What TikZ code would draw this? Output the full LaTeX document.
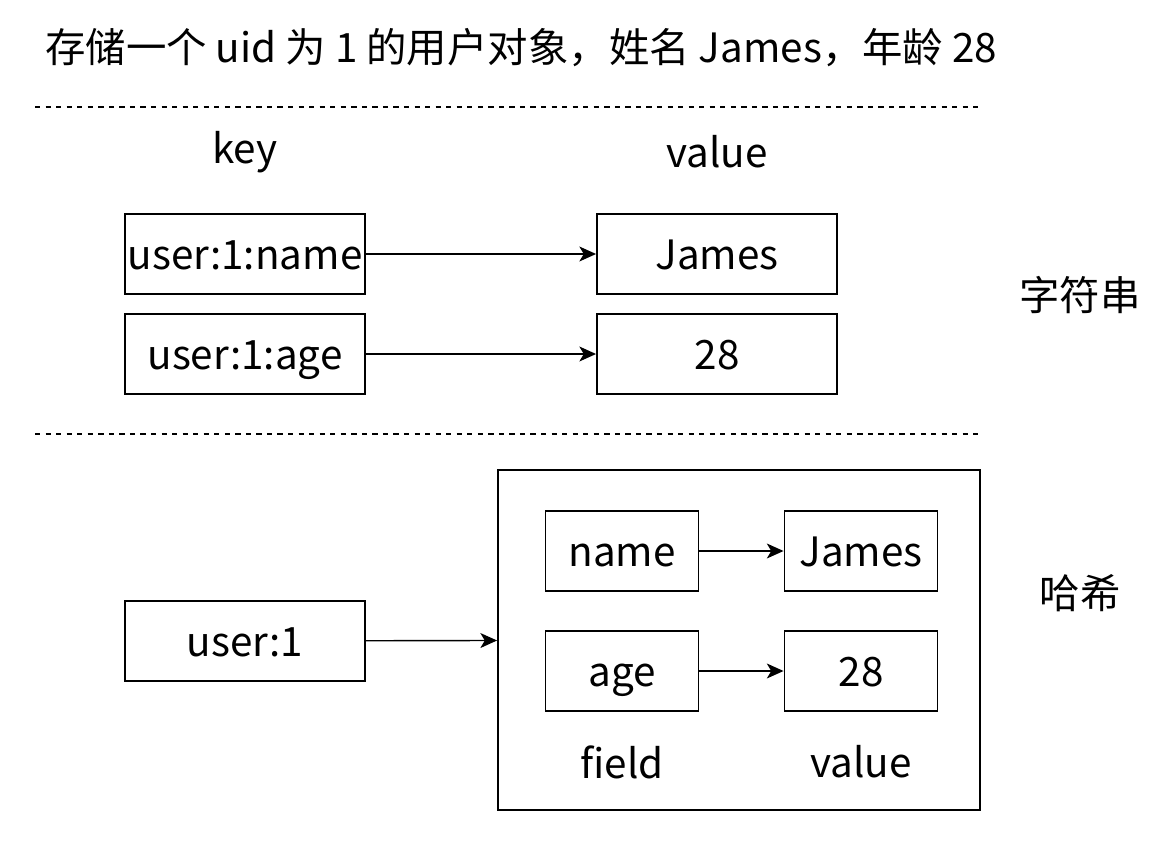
\documentclass[tikz,border=0pt]{standalone}
\usepackage{fontspec}
\setmainfont{Noto Sans CJK SC}
\usetikzlibrary{arrows.meta}
\tikzset{
  box/.style={draw, line width=1.1pt, inner sep=0pt, minimum width=4.8cm, minimum height=1.6cm, text height=21pt, text depth=3pt, font=\fontsize{23}{27}\selectfont},
  smallbox/.style={box, minimum width=3.06cm},
  lbl/.style={font=\fontsize{23}{27}\selectfont},
  link/.style={line width=0.8pt, -{Stealth[length=9.5pt, width=8.5pt, inset=2.5pt]}},
  sep/.style={dashed, line width=0.6pt, dash pattern=on 3pt off 3pt}
}
\begin{document}
\begin{tikzpicture}[x=0.02cm, y=-0.02cm]
		%%%%% START %%%%%
		\useasboundingbox (0, 0) rectangle (1173, 851);
		
		\node[lbl, anchor=west] (title) at (39, 48) {存储一个 uid 为 1 的用户对象，姓名 James，年龄 28};
		\draw[sep] (35, 107) -- (980, 107);
		
		\node[lbl] (keylbl) at (245, 152) {key};
		\node[lbl] (vallbl) at (717, 152) {value};
		
		\node[box] (kname) at (245, 254) {user:1:name};
		\node[box] (vname) at (717, 254) {James};
		\node[box] (kage) at (245, 354) {user:1:age};
		\node[box] (vage) at (717, 354) {28};
		\draw[link] (kname) -- (vname);
		\draw[link] (kage) -- (vage);
		
		\node[lbl] (str) at (1080, 295) {字符串};
		
		\draw[sep] (35, 434) -- (980, 434);
		
		\node[box, minimum width=9.64cm, minimum height=6.8cm] (hash) at (739, 640) {};
		\node[smallbox] (fname) at (622, 551) {name};
		\node[smallbox] (fvname) at (861, 551) {James};
		\node[smallbox] (fage) at (622, 671) {age};
		\node[smallbox] (fvage) at (861, 671) {28};
		\draw[link] (fname) -- (fvname);
		\draw[link] (fage) -- (fvage);
		\node[lbl] (fieldlbl) at (622, 762) {field};
		\node[lbl] (hvallbl) at (861, 762) {value};
		
		\node[box] (ukey) at (245, 641) {user:1};
		\draw[link] (ukey) -- (hash);
		
		\node[lbl] (hashlbl) at (1080, 593) {哈希};
		%%%%% END %%%%%
	\end{tikzpicture}
\end{document}
